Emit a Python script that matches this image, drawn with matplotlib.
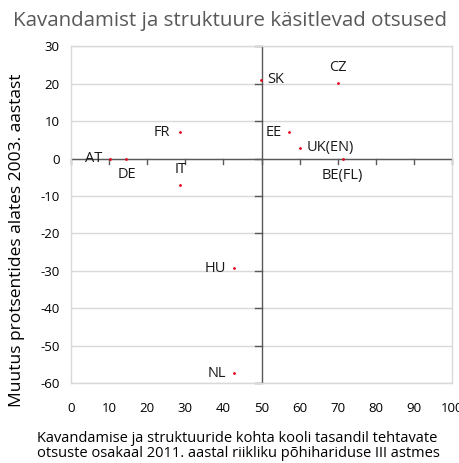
import matplotlib
matplotlib.use("Agg")
import matplotlib.pyplot as plt

plt.rcParams['font.family'] = ['Open Sans', 'DejaVu Sans']
plt.rcParams['axes.unicode_minus'] = False

# data
countries = ['AT', 'DE', 'FR', 'IT', 'SK', 'CZ', 'EE', 'UK(EN)', 'BE(FL)', 'HU', 'NL']
share_2011 = [10.4, 14.4, 28.7, 28.7, 49.8, 70.0, 57.1, 60.0, 71.3, 42.9, 42.9]
change = [0.0, 0.0, 7.0, -7.1, 21.1, 20.1, 7.0, 2.9, 0.0, -29.3, -57.4]

# label offsets in points (dx, dy) and alignment
label_pos = {
    'AT': (-6, 0, 'right', 'center'),
    'DE': (-6, -6, 'left', 'top'),
    'FR': (-7, 0, 'right', 'center'),
    'IT': (0, 6, 'center', 'bottom'),
    'SK': (5, 0, 'left', 'center'),
    'CZ': (0, 6, 'center', 'bottom'),
    'EE': (-5, 0, 'right', 'center'),
    'UK(EN)': (5, 0, 'left', 'center'),
    'BE(FL)': (0, -7, 'center', 'top'),
    'HU': (-6, 0, 'right', 'center'),
    'NL': (-6, 0, 'right', 'center'),
}

fig = plt.figure(figsize=(4.6, 4.63), dpi=100)
ax = fig.add_axes([0.154, 0.173, 0.829, 0.727])

ax.set_xlim(0, 100)
ax.set_ylim(-60, 30)
ax.set_xticks(range(0, 101, 10))
ax.set_yticks(range(-60, 31, 10))

grid_col = '#d9d9d9'
axis_col = '#595959'
for y in range(-60, 31, 10):
    ax.axhline(y, color=grid_col, lw=1, zorder=0)
for s in ax.spines.values():
    s.set_color(grid_col)
    s.set_linewidth(1)

ax.tick_params(length=0, labelsize=9.5, colors='black', pad=8)
ax.tick_params(axis='x', pad=14)

# axes crossing at x=50 and y=0
ax.axvline(50, color=axis_col, lw=1, zorder=1)
ax.axhline(0, color=axis_col, lw=1, zorder=1)
for x in range(0, 101, 10):
    ax.plot([x, x], [0, -1.4], color=axis_col, lw=1, zorder=1, clip_on=False)
for y in range(-60, 31, 10):
    ax.plot([50, 48.4], [y, y], color=axis_col, lw=1, zorder=1, clip_on=False)

ax.scatter(share_2011, change, s=4, color='#e3001b', zorder=3, linewidths=0)

for name, x, y in zip(countries, share_2011, change):
    dx, dy, ha, va = label_pos[name]
    ax.annotate(name, (x, y), xytext=(dx, dy), textcoords='offset points',
                ha=ha, va=va, fontsize=10.5, color='#1a1a1a', zorder=4)

fig.text(0.5, 0.955, 'Kavandamist ja struktuure käsitlevad otsused',
         ha='center', va='center', fontsize=14.75, color='#595959')
fig.text(0.037, 0.482, 'Muutus protsentides alates 2003. aastast',
         rotation=90, ha='center', va='center', fontsize=12.5)
fig.text(0.08, 0.037, 'Kavandamise ja struktuuride kohta kooli tasandil tehtavate\n'
         'otsuste osakaal 2011. aastal riikliku põhihariduse III astmes',
         ha='left', va='center', fontsize=10.5, linespacing=1.05)

fig.savefig('out.png', dpi=100)
